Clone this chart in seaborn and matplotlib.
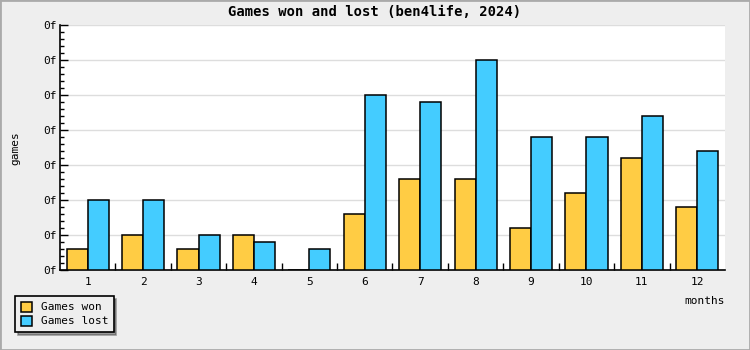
import matplotlib
matplotlib.use("Agg")
import matplotlib.pyplot as plt
import seaborn as sns
import pandas as pd
from matplotlib.ticker import MultipleLocator, FuncFormatter, FixedLocator
from matplotlib.patches import Rectangle

months = ["1", "2", "3", "4", "5", "6", "7", "8", "9", "10", "11", "12"]
games_won = [3, 5, 3, 5, 0, 8, 13, 13, 6, 11, 16, 9]
games_lost = [10, 10, 5, 4, 3, 25, 24, 30, 19, 19, 22, 17]
series_names = ["Games won", "Games lost"]
colors = ["#FFCC44", "#44CCFF"]
ytick_label = "0f"

df = pd.DataFrame({
    "month": months * 2,
    "value": games_won + games_lost,
    "series": [series_names[0]] * len(months) + [series_names[1]] * len(months),
})

sns.set_theme(style="white")
plt.rcParams["font.family"] = ["DejaVu Sans Mono", "DejaVu Sans"]
plt.rcParams["text.color"] = "black"
plt.rcParams["xtick.color"] = "black"
plt.rcParams["ytick.color"] = "black"
plt.rcParams["xtick.labelcolor"] = "black"
plt.rcParams["ytick.labelcolor"] = "black"

fig = plt.figure(figsize=(7.5, 3.5), dpi=100, facecolor="#EEEEEE")
fig.patches.append(Rectangle((0, 0), 1, 1, transform=fig.transFigure, fill=False,
                             edgecolor="#AAAAAA", linewidth=2, zorder=10))
ax = fig.add_axes([60 / 750, 80 / 350, 665 / 750, 245 / 350])
ax.set_facecolor("white")

sns.barplot(data=df, x="month", y="value", hue="series", palette=colors,
            width=0.76, edgecolor="black", linewidth=1.1, saturation=1,
            ax=ax, legend=True, zorder=3)

ax.set_ylim(0, 35)
ax.set_xlim(-0.5, len(months) - 0.5)
ax.yaxis.set_major_locator(MultipleLocator(5))
ax.yaxis.set_minor_locator(MultipleLocator(1))
ax.yaxis.set_major_formatter(FuncFormatter(lambda v, p: ytick_label))
ax.grid(axis="y", which="major", color="#DDDDDD", linewidth=1, zorder=0)
ax.set_axisbelow(True)

for s in ["top", "right"]:
    ax.spines[s].set_visible(False)
for s in ["left", "bottom"]:
    ax.spines[s].set_color("black")
    ax.spines[s].set_linewidth(1.2)

ax.tick_params(axis="y", which="major", direction="in", length=6, width=1,
               color="black", labelcolor="black", labelsize=8, pad=2, left=True)
ax.tick_params(axis="y", which="minor", direction="in", length=3, width=1,
               color="black", left=True)
ax.tick_params(axis="x", which="major", length=0, labelsize=8, pad=5,
               labelcolor="black")
ax.xaxis.set_minor_locator(FixedLocator([i + 0.5 for i in range(len(months) - 1)]))
ax.tick_params(axis="x", which="minor", direction="in", length=5, width=1,
               color="black", bottom=True)

ax.set_xlabel("")
ax.set_ylabel("")
fig.text(15 / 750, 1 - 148 / 350, "games", rotation=90, ha="center", va="center",
         fontsize=8, color="black")
fig.text(725 / 750, 1 - 301 / 350, "months", ha="right", va="center", fontsize=8,
         color="black")
fig.text(0.5, 1 - 12 / 350, "Games won and lost (ben4life, 2024)", ha="center",
         va="center", fontsize=10, fontweight="bold", color="black")

handles, labels = ax.get_legend_handles_labels()
ax.get_legend().remove()
leg = fig.legend(handles, labels, loc="lower left",
                 bbox_to_anchor=(15 / 750, 18 / 350), bbox_transform=fig.transFigure,
                 borderaxespad=0, frameon=True, fancybox=False, shadow=True,
                 facecolor="#EEEEEE", edgecolor="black", fontsize=8,
                 handlelength=1.0, handleheight=1.0, handletextpad=0.8,
                 labelspacing=0.3, borderpad=0.5, labelcolor="black")
leg.get_frame().set_linewidth(1.2)
leg.get_frame().set_alpha(1)

fig.savefig("out.png", dpi=100, facecolor=fig.get_facecolor())
